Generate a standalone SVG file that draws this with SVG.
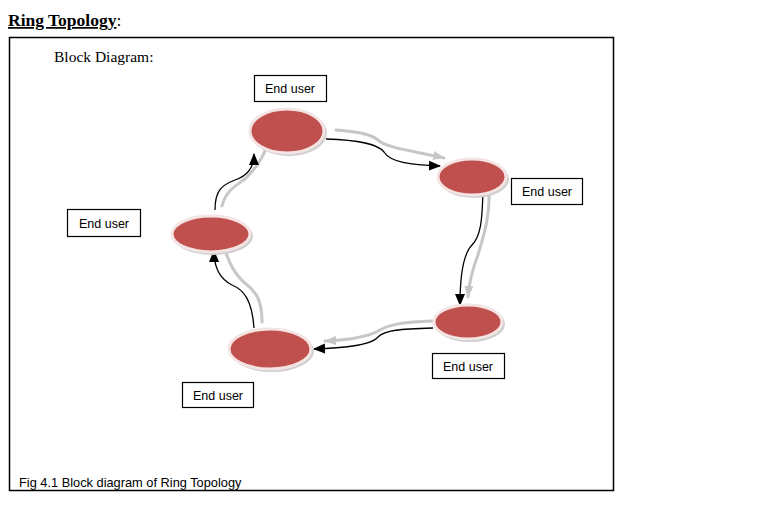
<svg xmlns="http://www.w3.org/2000/svg" width="768" height="517" viewBox="0 0 768 517">
<style>
.serif{font-family:"Liberation Serif","Times New Roman",serif;fill:#000}
.sans{font-family:"Liberation Sans",Arial,sans-serif;fill:#000}
.box{fill:#fff;stroke:#000;stroke-width:1.2}
.node{fill:#C0504D;stroke:#F4E4E3;stroke-width:3}
.shadow{fill:#cfcfcf}
.blk{fill:none;stroke:#000;stroke-width:1.3}
.gry{fill:none;stroke:#bdbdbd;stroke-width:3;stroke-linecap:round;opacity:0.85}
</style>
<defs>
<marker id="ab" markerUnits="userSpaceOnUse" markerWidth="12" markerHeight="12" viewBox="0 0 12 12" refX="11" refY="6" orient="auto">
<path d="M0,1 L12,6 L0,11 Z" fill="#000"/>
</marker>
<marker id="ag" markerUnits="userSpaceOnUse" markerWidth="12" markerHeight="12" viewBox="0 0 12 12" refX="11" refY="6" orient="auto">
<path d="M0,1.5 L12,6 L0,10.5 Z" fill="#bdbdbd"/>
</marker>
</defs>
<rect width="768" height="517" fill="#fff"/>
<text x="8" y="26" class="serif" font-size="17.5"><tspan font-weight="bold" text-decoration="underline">Ring Topology</tspan>:</text>
<rect x="9.5" y="37.5" width="604" height="453" fill="none" stroke="#000" stroke-width="1.5"/>
<text x="54" y="62" class="serif" font-size="15.5">Block Diagram:</text>
<g id="connectors">
<path class="gry" d="M336,130 C360,132 370,134 378,140 C385,148 420,152 444,158" marker-end="url(#ag)"/>
<path class="blk" d="M326,139 C360,140 378,144 384,152 C390,162 410,165 440,166" marker-end="url(#ab)"/>
<path class="gry" d="M489,192 C490,220 482,240 478,255 C472,270 469,285 468,297" marker-end="url(#ag)"/>
<path class="blk" d="M483,193 C482,215 482,235 472,245 C462,255 460,280 460,305" marker-end="url(#ab)"/>
<path class="gry" d="M432,321 C405,322 390,324 380,330 C370,336 350,340 325,341" marker-end="url(#ag)"/>
<path class="blk" d="M433,328 C400,329 385,330 378,337 C370,346 340,348 314,349" marker-end="url(#ab)"/>
<path class="gry" d="M262,322 C262,300 256,292 246,284 C236,276 228,262 225,249"/>
<path class="blk" d="M254,328 C252,300 244,290 232,285 C218,278 214,265 214,251" marker-end="url(#ab)"/>
<path class="gry" d="M222,206 C226,190 236,186 246,178 C256,168 262,160 266,148"/>
<path class="blk" d="M215,210 C215,190 222,185 235,180 C250,175 254,165 254,154" marker-end="url(#ab)"/>
</g>
<g id="node-top">
<ellipse class="shadow" cx="289" cy="133" rx="38" ry="23"/>
<ellipse class="node" cx="287" cy="131" rx="37" ry="22"/>
<rect class="box" x="254.5" y="75.5" width="72" height="26"/>
<text x="290" y="93" class="sans" font-size="12.5" text-anchor="middle">End user</text>
</g>
<g id="node-right">
<ellipse class="shadow" cx="474" cy="179" rx="35" ry="19"/>
<ellipse class="node" cx="472" cy="177" rx="34" ry="18"/>
<rect class="box" x="511.5" y="178.5" width="71" height="26"/>
<text x="547" y="196" class="sans" font-size="12.5" text-anchor="middle">End user</text>
</g>
<g id="node-bottom-right">
<ellipse class="shadow" cx="470" cy="324" rx="35" ry="18"/>
<ellipse class="node" cx="468" cy="322" rx="34" ry="17"/>
<rect class="box" x="432.5" y="353.5" width="72" height="25"/>
<text x="468" y="371" class="sans" font-size="12.5" text-anchor="middle">End user</text>
</g>
<g id="node-bottom-left">
<ellipse class="shadow" cx="272" cy="351" rx="42" ry="21"/>
<ellipse class="node" cx="270" cy="349" rx="41" ry="20"/>
<rect class="box" x="182.5" y="382.5" width="71" height="25"/>
<text x="218" y="400" class="sans" font-size="12.5" text-anchor="middle">End user</text>
</g>
<g id="node-left">
<ellipse class="shadow" cx="213" cy="236" rx="40" ry="19"/>
<ellipse class="node" cx="211" cy="234" rx="39" ry="18"/>
<rect class="box" x="67.5" y="209.5" width="73" height="27"/>
<text x="104" y="228" class="sans" font-size="12.5" text-anchor="middle">End user</text>
</g>
<text x="19" y="487" class="sans" font-size="12.8">Fig 4.1 Block diagram of Ring Topology</text>
</svg>
